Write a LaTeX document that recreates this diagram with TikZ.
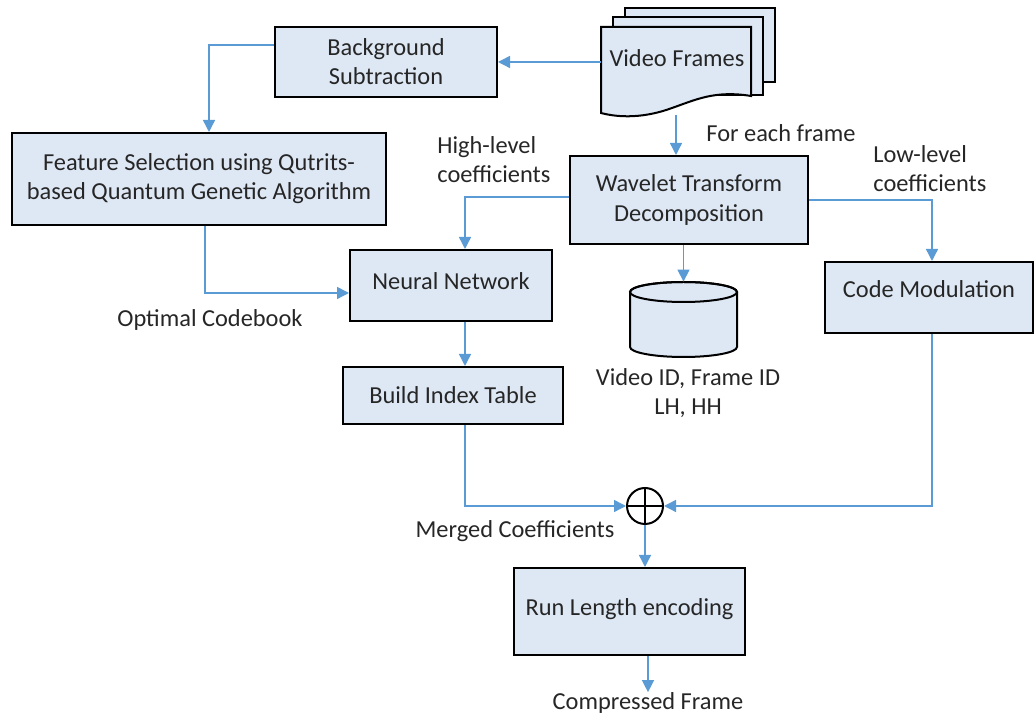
\documentclass[tikz,border=0pt]{standalone}
\usepackage{fontspec}
\setmainfont{Carlito}
\usetikzlibrary{arrows.meta}
\definecolor{boxfill}{HTML}{DEE8F5}
\definecolor{flow}{HTML}{5B9BD5}
\definecolor{ink}{HTML}{262626}
\tikzset{
  stage/.style={draw=black, line width=1pt, fill=boxfill, align=center, inner sep=0pt, text=ink},
  flowarrow/.style={draw=flow, line width=0.7pt, -{Triangle[length=6pt,width=6pt]}},
  note/.style={align=left, text=ink, inner sep=0pt},
}
\begin{document}
\begin{tikzpicture}[x=0.5pt,y=-0.5pt,font=\fontsize{12.2}{14.6}\selectfont]
\useasboundingbox (0,0) rectangle (1035,715);
% stack of frames
\foreach \dx/\dy/\yb in {24/-19/82, 12/-10/95}
  \draw[line width=1pt, fill=boxfill] (601+\dx,27+\dy) rectangle (751+\dx,\yb);
\draw[line width=1pt, fill=boxfill] (601,27) -- (751,27) -- (751,96)
  .. controls (715,90) and (695,100) .. (672,108)
  .. controls (645,118) and (620,118) .. (601,113) -- cycle;
\node[minimum width=75pt, minimum height=44pt, inner sep=0pt] (frames) at (676,71) {};
\node[note] (framestext) at (677,58) {Video Frames};
% database
\draw[line width=1pt, fill=boxfill] (630,292) -- (630,347)
  arc[start angle=180, end angle=360, x radius=26.75pt, y radius=5pt] -- (737,292)
  arc[start angle=0, end angle=180, x radius=26.75pt, y radius=5pt] -- cycle;
\draw[line width=1pt] (683.5,292) ellipse[x radius=26.75pt, y radius=5pt];
\node[minimum width=53.5pt, minimum height=37.5pt, inner sep=0pt] (db) at (683.5,319.5) {};
% boxes
\node[stage, minimum width=111pt, minimum height=35pt] (bgsub) at (386,62) {Background\\Subtraction};
\node[stage, minimum width=187pt, minimum height=46pt] (feature) at (199,179) {Feature Selection using Qutrits-\\based Quantum Genetic Algorithm};
\node[stage, minimum width=101pt, minimum height=35.5pt] (nn) at (451,285.5) {\raisebox{4pt}{Neural Network}};
\node[stage, minimum width=119pt, minimum height=44pt] (wavelet) at (689,200) {Wavelet Transform\\Decomposition};
\node[stage, minimum width=104pt, minimum height=35.5pt] (codemod) at (929,297.5) {\raisebox{8pt}{Code Modulation}};
\node[stage, minimum width=110pt, minimum height=28.5pt] (index) at (453,395.5) {Build Index Table};
\node[stage, minimum width=115.5pt, minimum height=43.5pt] (rle) at (629.5,611.5) {\raisebox{4pt}{Run Length encoding}};
\node[draw=black, line width=1pt, circle, minimum size=18pt, inner sep=0pt] (sum) at (645,506) {};
\draw[line width=1pt] (sum.north) -- (sum.south) (sum.west) -- (sum.east);
% labels
\node[note, anchor=west] (forframe) at (706,133) {For each frame};
\node[note, anchor=west] (hilevel) at (437,160) {High-level\\coefficients};
\node[note, anchor=west] (lolevel) at (873,169) {Low-level\\coefficients};
\node[note] (codebook) at (210,320) {Optimal Codebook};
\node[note, align=center] (dblabel) at (688,393) {Video ID, Frame ID\\LH, HH};
\node[note] (merged) at (515,531) {Merged Coefficients};
\node[note] (output) at (648,703) {Compressed Frame};
% connectors
\draw[flowarrow] (frames.west |- bgsub.east) -- (bgsub.east);
\draw[flowarrow] ([yshift=8.5pt]bgsub.west) -| ([xshift=5pt]feature.north);
\draw[flowarrow] ([xshift=3pt]feature.south) |- ([yshift=-3.75pt]nn.west);
\draw[flowarrow] (frames.south) -- (frames.south |- wavelet.north);
\draw[flowarrow] ([yshift=1.5pt]wavelet.west) -| ([xshift=7pt]nn.north);
\draw[flowarrow] (wavelet.east) -| ([xshift=1.5pt]codemod.north);
\draw[flowarrow] (db.north |- wavelet.south) -- (db.north);
\draw[flowarrow] ([xshift=7pt]nn.south) -- ([xshift=7pt]nn.south |- index.north);
\draw[flowarrow] ([xshift=6pt]index.south) |- (sum.west);
\draw[flowarrow] ([xshift=1.5pt]codemod.south) |- (sum.east);
\draw[flowarrow] (sum.south) -- (sum.south |- rle.north);
\draw[flowarrow] (rle.south -| output.north) -- (output.north);
\end{tikzpicture}
\end{document}
